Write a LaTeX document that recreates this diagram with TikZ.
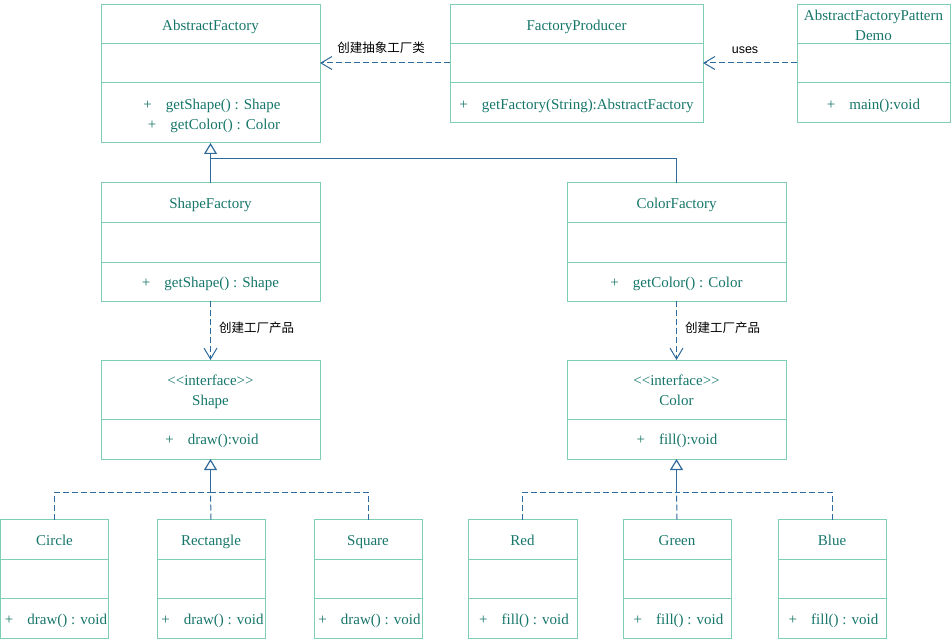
\documentclass[tikz,border=0pt]{standalone}
\usepackage{fontspec}
\setmainfont{Liberation Serif}
\newfontfamily\cjkfont{Noto Sans CJK SC}
\newfontfamily\lsans{Liberation Sans}
\usetikzlibrary{arrows.meta}
\definecolor{bordc}{HTML}{7FCFB5}
\definecolor{txtc}{HTML}{16766A}
\definecolor{linec}{HTML}{2F6A9C}
\tikzset{
  cls/.style={draw=bordc, line width=1pt, inner sep=0pt, outer sep=0pt, anchor=north west},
  sepl/.style={draw=bordc, line width=1pt},
  txt/.style={text=txtc, font=\fontsize{15}{20}\selectfont, inner sep=0pt, anchor=base},
  lbl/.style={font=\cjkfont\fontsize{12.5}{14}\selectfont, inner sep=0pt, text=black},
  lbls/.style={font=\lsans\fontsize{12.5}{14}\selectfont, inner sep=0pt, text=black},
  dep/.style={draw=linec, line width=1pt, dash pattern=on 6pt off 3pt,
    -{Straight Barb[length=11pt,width=13pt,line width=1pt]}},
  gen/.style={draw=linec, line width=1pt},
  real/.style={draw=linec, line width=1pt, dash pattern=on 6pt off 3pt},
  tri/.style={-{Triangle[open,length=11pt,width=13pt,fill=white,line width=1.2pt]}},
}
\newcommand{\pl}{+\hspace{14pt}}
\newcommand{\ifc}{\textless\kern0pt\textless\kern0pt interface\kern0pt\textgreater\kern0pt\textgreater}
\begin{document}
\begin{tikzpicture}[x=1pt,y=-1pt]
\useasboundingbox (0,0) rectangle (952,639);

% class boxes
\node[cls, minimum width=219pt, minimum height=138.5pt] (af) at (101,4.5) {};
\node[cls, minimum width=253pt, minimum height=118.5pt] (fp) at (450,4.5) {};
\node[cls, minimum width=153pt, minimum height=118.5pt] (demo) at (797,4.5) {};
\node[cls, minimum width=219pt, minimum height=118pt] (sf) at (101,183) {};
\node[cls, minimum width=219pt, minimum height=118pt] (cf) at (567,183) {};
\node[cls, minimum width=219pt, minimum height=99pt] (shp) at (101,360) {};
\node[cls, minimum width=219pt, minimum height=99pt] (col) at (567,360) {};
\node[cls, minimum width=108pt, minimum height=118.5pt] (circ) at (0.5,519.5) {};
\node[cls, minimum width=108pt, minimum height=118.5pt] (rect) at (157,519.5) {};
\node[cls, minimum width=108pt, minimum height=118.5pt] (squ) at (314,519.5) {};
\node[cls, minimum width=109pt, minimum height=118.5pt] (red) at (468,519.5) {};
\node[cls, minimum width=108pt, minimum height=118.5pt] (green) at (623,519.5) {};
\node[cls, minimum width=108pt, minimum height=118.5pt] (blue) at (778,519.5) {};

% separators
\foreach \n/\a/\b in {af/44/83, fp/44/83, demo/44/83, sf/222/262, cf/222/262,
  circ/559/598.5, rect/559/598.5, squ/559/598.5, red/559/598.5, green/559/598.5, blue/559/598.5}{
  \draw[sepl] (\n.west |- 0,\a) -- (\n.east |- 0,\a);
  \draw[sepl] (\n.west |- 0,\b) -- (\n.east |- 0,\b);
}
\draw[sepl] (shp.west |- 0,419) -- (shp.east |- 0,419);
\draw[sepl] (col.west |- 0,419) -- (col.east |- 0,419);

% texts (baselines)
\node[txt] (t-af) at (210.5,30.5) {AbstractFactory};
\node[txt] (m-af1) at (212,109.5) {\pl getShape() : Shape};
\node[txt] (m-af2) at (214,129.5) {\pl getColor() : Color};
\node[txt] (t-fp) at (576.5,30.5) {FactoryProducer};
\node[txt] (m-fp) at (576.5,109.5) {\pl getFactory(String):AbstractFactory};
\node[txt] (t-demo1) at (873.5,20.5) {AbstractFactoryPattern};
\node[txt] (t-demo2) at (873.5,40.5) {Demo};
\node[txt] (m-demo) at (873.5,109.5) {\pl main():void};
\node[txt] (t-sf) at (210.5,208.5) {ShapeFactory};
\node[txt] (m-sf) at (210.5,287.5) {\pl getShape() : Shape};
\node[txt] (t-cf) at (676.5,208.5) {ColorFactory};
\node[txt] (m-cf) at (676.5,287.5) {\pl getColor() : Color};
\node[txt] (t-shp1) at (210.5,385.5) {\ifc};
\node[txt] (t-shp2) at (210.5,405.5) {Shape};
\node[txt] (m-shp) at (212,444.5) {\pl draw():void};
\node[txt] (t-col1) at (676.5,385.5) {\ifc};
\node[txt] (t-col2) at (676.5,405.5) {Color};
\node[txt] (m-col) at (677,444.5) {\pl fill():void};
\node[txt] (t-circ) at (54.5,545.5) {Circle};
\node[txt] (m-circ) at (56,624.5) {\pl draw() : void};
\node[txt] (t-rect) at (211,545.5) {Rectangle};
\node[txt] (m-rect) at (212.5,624.5) {\pl draw() : void};
\node[txt] (t-squ) at (368,545.5) {Square};
\node[txt] (m-squ) at (369.5,624.5) {\pl draw() : void};
\node[txt] (t-red) at (522.5,545.5) {Red};
\node[txt] (m-red) at (524,624.5) {\pl fill() : void};
\node[txt] (t-green) at (677,545.5) {Green};
\node[txt] (m-green) at (678.5,624.5) {\pl fill() : void};
\node[txt] (t-blue) at (832,545.5) {Blue};
\node[txt] (m-blue) at (833.5,624.5) {\pl fill() : void};

% dependencies
\draw[dep] (fp.west |- 0,63) -- (af.east |- 0,63);
\node[lbl] (l-af) at (381,48) {创建抽象工厂类};
\draw[dep] (demo.west |- 0,63) -- (fp.east |- 0,63);
\node[lbls] (l-uses) at (745,50) {uses};
\draw[dep] (sf.south) -- (shp.north);
\node[lbl, anchor=west] (l-sf) at (219,328) {创建工厂产品};
\draw[dep] (cf.south) -- (col.north);
\node[lbl, anchor=west] (l-cf) at (685,328) {创建工厂产品};

% generalization
\coordinate (j1) at (210.5,159);
\draw[gen, tri] (sf.north) -- (af.south);
\draw[gen] (cf.north) |- (j1);

% realization
\coordinate (j2) at (210.5,492);
\coordinate (j3) at (676.5,492);
\draw[real] (circ.north) |- (j2);
\draw[real] (squ.north) |- (j2);
\draw[real] (rect.north) -- (j2);
\draw[gen, tri] (j2) -- (shp.south);
\draw[real] (red.north) |- (j3);
\draw[real] (blue.north) |- (j3);
\draw[real] (green.north) -- (j3);
\draw[gen, tri] (j3) -- (col.south);
\end{tikzpicture}
\end{document}
